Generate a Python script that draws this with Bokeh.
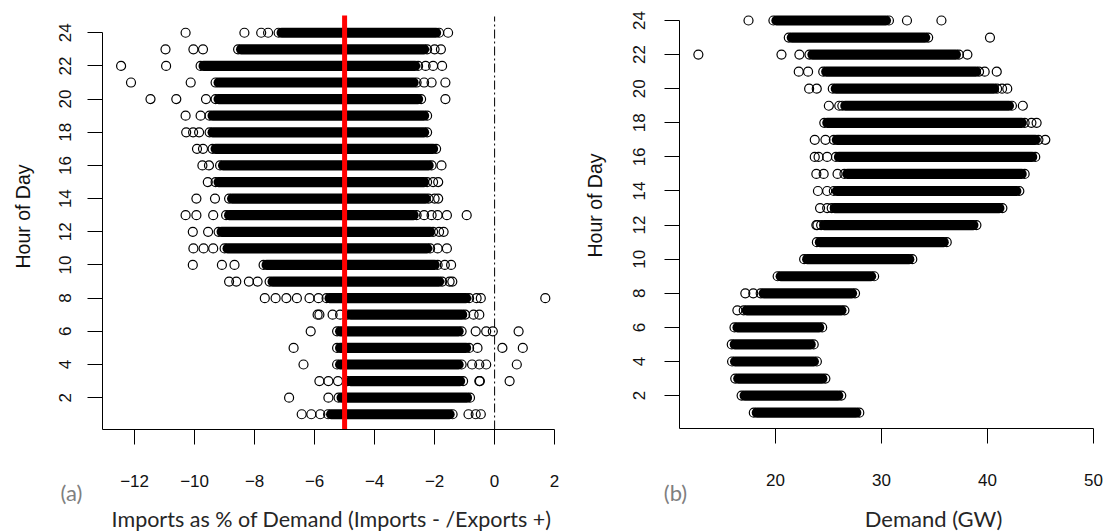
import math
from bokeh.plotting import figure
from bokeh.models import Range1d, LinearAxis, FixedTicker, Label
from bokeh.layouts import row
from bokeh.embed import file_html
from bokeh.resources import INLINE

# ---------------- data ----------------
HOURS = list(range(1, 25))

# Panel (a): imports as % of demand, dense band (first/last dense point) per hour
A_LO = [-5.55, -5.2, -4.9, -5.25, -5.25, -5.25, -4.9, -5.6, -7.5, -7.7, -9.0, -9.2,
        -8.95, -8.85, -9.3, -9.15, -9.4, -9.5, -9.5, -9.3, -9.3, -9.8, -8.55, -7.2]
A_HI = [-1.4, -0.82, -1.05, -1.1, -0.85, -1.1, -0.98, -0.85, -1.75, -1.9, -2.15, -2.05,
        -2.6, -2.2, -2.25, -2.1, -1.95, -2.25, -2.25, -2.45, -2.6, -2.55, -2.25, -1.85]
# Panel (a): individually visible points per hour
A_PTS = {
    1: [-6.43, -6.11, -5.81, -0.87, -0.63, -0.46],
    2: [-6.85, -5.54],
    3: [-5.84, -5.54, -5.22, -0.51, -0.49, 0.50],
    4: [-6.37, -0.75, -0.51, -0.28, 0.74],
    5: [-6.70, -0.57, 0.26, 0.94],
    6: [-6.13, -0.63, -0.28, -0.06, 0.80],
    7: [-5.90, -5.84, -5.40, -5.15, -0.70, -0.51],
    8: [-7.66, -7.30, -6.94, -6.59, -6.17, -5.87, -0.60, -0.46, 1.69],
    9: [-8.85, -8.61, -8.19, -7.90, -1.50, -1.41],
    10: [-10.06, -9.09, -8.67, -1.66, -1.45],
    11: [-10.04, -9.70, -9.38, -1.90, -1.59],
    12: [-10.06, -9.55, -1.85, -1.70],
    13: [-10.30, -9.94, -9.38, -2.35, -2.10, -1.90, -1.59, -0.93],
    14: [-9.94, -9.32, -2.00, -1.88],
    15: [-9.56, -2.05, -1.88],
    16: [-9.74, -9.52, -1.77],
    17: [-9.92, -9.72],
    18: [-10.28, -10.05, -9.85],
    19: [-10.30, -9.80],
    20: [-11.47, -10.61, -9.62, -1.64],
    21: [-12.12, -10.13, -2.35, -2.10, -1.64],
    22: [-12.45, -10.95, -2.30, -2.05, -1.75],
    23: [-10.97, -10.04, -9.72, -2.00, -1.79],
    24: [-10.30, -8.34, -7.78, -7.55, -1.55],
}
A_XTICKS = [-12, -10, -8, -6, -4, -2, 0, 2]
A_REDLINE = -5
A_ZERO = 0

# Panel (b): demand (GW)
B_LO = [17.95, 16.8, 16.2, 15.9, 15.87, 16.13, 17.0, 18.6, 20.2, 22.7, 23.9, 24.3,
        25.3, 25.5, 26.5, 25.7, 25.5, 24.6, 26.3, 25.4, 24.5, 23.2, 21.25, 19.8]
B_HI = [27.9, 26.2, 24.7, 23.9, 23.6, 24.4, 26.5, 27.5, 29.3, 32.9, 36.15, 38.95,
        41.4, 43.0, 43.5, 44.5, 44.8, 43.5, 42.3, 40.9, 39.2, 37.3, 34.4, 30.7]
B_PTS = {
    7: [16.4],
    8: [17.15, 17.9],
    12: [23.85, 23.95],
    13: [24.2, 24.87],
    14: [24.0, 24.87],
    15: [23.85, 24.54, 25.85],
    16: [23.7, 24.06, 24.87],
    17: [23.7, 24.71, 45.45],
    18: [44.14, 44.63],
    19: [25.03, 26.01, 43.33],
    20: [23.17, 23.89, 41.37, 41.86],
    21: [22.19, 23.07, 39.73, 40.87],
    22: [12.72, 20.56, 22.25, 38.1],
    23: [40.23],
    24: [17.45, 32.4, 35.65],
}
B_XTICKS = [20, 30, 40, 50]
Y_TICKS = list(range(2, 25, 2))

TICK_FONT = "Liberation Sans"
INK = "#111111"
CIRCLE = 9
CIRCLE_LW = 1.2
BAND_W = CIRCLE + CIRCLE_LW


class Panel:
    """Maps picture pixels to data for a figure whose frame fills the whole canvas."""
    def __init__(self, page_left, width, height, x0, x0_px, sx, y0, y0_px, sy):
        self.page_left, self.width, self.height = page_left, width, height
        self.x0, self.x0_px, self.sx = x0, x0_px, sx
        self.y0, self.y0_px, self.sy = y0, y0_px, sy

    def dx(self, px):
        return self.x0 + (px - self.x0_px) / self.sx

    def dy(self, py):
        return self.y0 + (self.y0_px - py) / self.sy

    def ranges(self):
        return ((self.dx(self.page_left), self.dx(self.page_left + self.width)),
                (self.dy(self.height), self.dy(0)))


def make_panel(pan, xticks, x_tick_hi, lo, hi, pts, xstandoff, ystandoff):
    xr, yr = pan.ranges()
    p = figure(width=pan.width, height=pan.height, x_range=Range1d(*xr), y_range=Range1d(*yr),
               x_axis_type=None, y_axis_type=None, output_backend="svg",
               toolbar_location=None, min_border=0)
    p.outline_line_color = None
    p.background_fill_color = "white"
    p.border_fill_color = "white"

    xa = LinearAxis(ticker=FixedTicker(ticks=xticks), bounds=(pan.x0, x_tick_hi),
                    fixed_location=pan.y0)
    ya = LinearAxis(ticker=FixedTicker(ticks=Y_TICKS), bounds=(pan.y0, 24),
                    fixed_location=pan.x0)
    for ax in (xa, ya):
        ax.axis_line_color = "black"
        ax.axis_line_width = 1
        ax.major_tick_line_color = "black"
        ax.major_tick_in = 0
        ax.major_tick_out = 15
        ax.minor_tick_in = 0
        ax.minor_tick_out = 0
        ax.major_label_text_font = TICK_FONT
        ax.major_label_text_font_size = "17px"
        ax.major_label_text_color = INK
    xa.major_label_standoff = xstandoff
    ya.major_label_standoff = ystandoff
    ya.major_label_orientation = "vertical"
    p.add_layout(xa, "below")
    p.add_layout(ya, "left")

    delta = 3.0 / pan.sx
    p.segment(x0=[v + delta for v in lo], y0=HOURS, x1=[v - delta for v in hi], y1=HOURS,
              line_color="black", line_width=BAND_W, line_cap="round")
    px_, py_ = [], []
    for h, l, u in zip(HOURS, lo, hi):
        px_ += [l, u]
        py_ += [h, h]
    for h, vals in pts.items():
        px_ += vals
        py_ += [h] * len(vals)
    p.scatter(x=px_, y=py_, marker="circle", size=CIRCLE, fill_color=None,
              line_color="black", line_width=CIRCLE_LW)
    return p


def add_text(p, pan, px, py, text, font, size, color, angle=0.0):
    p.add_layout(Label(x=pan.dx(px), y=pan.dy(py), text=text, angle=angle,
                       text_align="center", text_baseline="middle", text_font=font,
                       text_font_size=size, text_color=color))


# ---------------- panel (a) ----------------
PA = Panel(page_left=0, width=580, height=531, x0=-13.07, x0_px=102, sx=30.0,
           y0=0.08, y0_px=429, sy=16.586)
pa = make_panel(PA, A_XTICKS, 2, A_LO, A_HI, A_PTS, 30, 16)
pa.segment(x0=[A_ZERO], y0=[PA.y0], x1=[A_ZERO], y1=[PA.dy(16)], line_color="black",
           line_width=1, line_dash="9 3 2 3")
pa.segment(x0=[A_REDLINE], y0=[PA.y0], x1=[A_REDLINE], y1=[PA.dy(15)], line_color="#ff0000",
           line_width=5)
add_text(pa, PA, 22, 216, "Hour of Day", TICK_FONT, "19.5px", INK, math.pi / 2)
add_text(pa, PA, 331, 518, "Imports as % of Demand (Imports - /Exports +)", "Lato", "21.5px",
         "#262626")
add_text(pa, PA, 71, 492, "(a)", "Lato", "22px", "#7f7f7f")

# ---------------- panel (b) ----------------
PB = Panel(page_left=580, width=523, height=531, x0=10.94, x0_px=679, sx=10.6,
           y0=0.07, y0_px=428, sy=17.05)
pb = make_panel(PB, B_XTICKS, 50, B_LO, B_HI, B_PTS, 30, 19)
add_text(pb, PB, 594, 205, "Hour of Day", TICK_FONT, "19.5px", INK, math.pi / 2)
add_text(pb, PB, 933, 518, "Demand (GW)", "Lato", "22px", "#262626")
add_text(pb, PB, 675, 492, "(b)", "Lato", "22px", "#7f7f7f")

layout = row(pa, pb, spacing=0)
open("out.html", "w").write(file_html(layout, INLINE))
